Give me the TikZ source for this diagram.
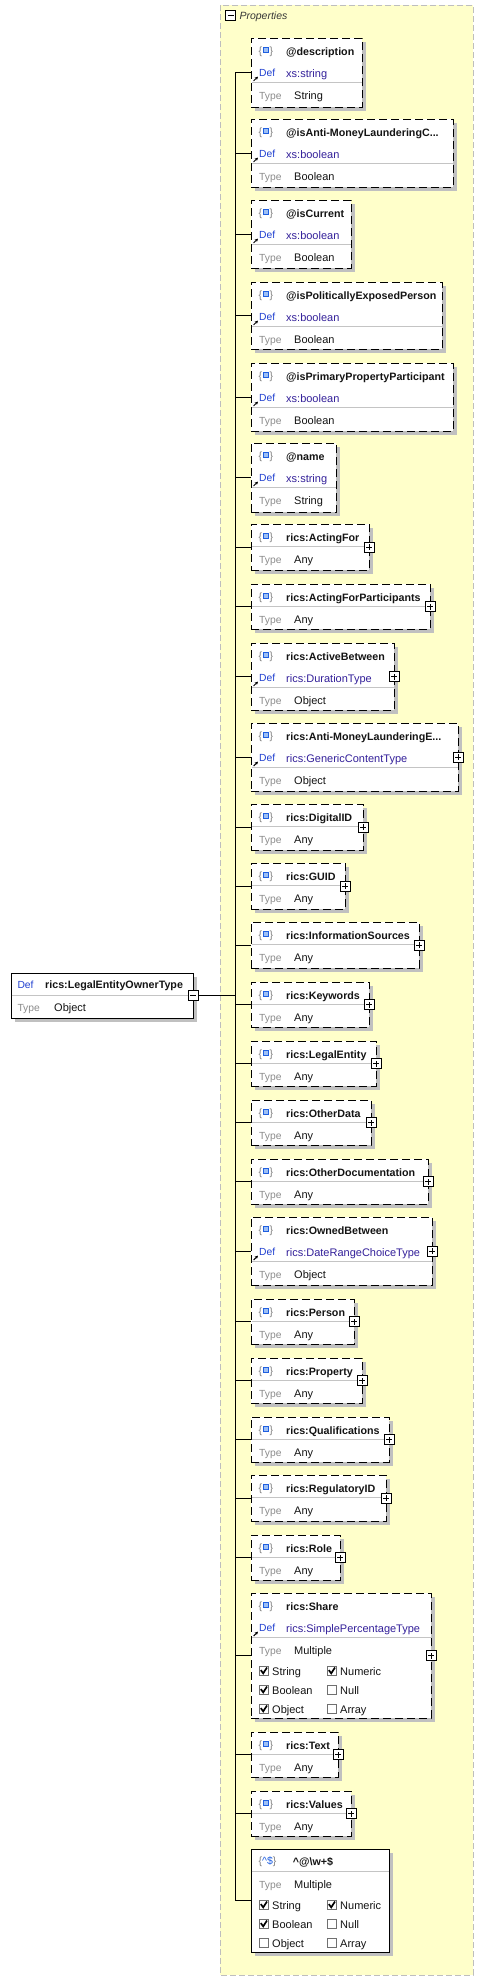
\documentclass[tikz,border=0pt]{standalone}
\usepackage{fontspec}
\setmainfont{Liberation Sans}
\usetikzlibrary{arrows.meta}
\definecolor{panelc}{HTML}{FFFFCA}
\definecolor{panelline}{HTML}{BEBEBE}
\definecolor{shadowc}{HTML}{C0C0C0}
\definecolor{sepcol}{HTML}{C4C4C4}
\definecolor{deflabc}{HTML}{1F3FD0}
\definecolor{defvalc}{HTML}{33209A}
\definecolor{typelabc}{HTML}{8C8C8C}
\definecolor{valc}{HTML}{141414}
\definecolor{bracec}{HTML}{808080}
\definecolor{iconblue}{HTML}{1F5FE0}
\definecolor{iconfill}{HTML}{9EC0F5}
\definecolor{cbxc}{HTML}{707070}
\tikzset{
  boxbase/.style={draw=black, line width=1pt, fill=white, inner sep=0pt, outer sep=0pt},
  dashedbox/.style={dash pattern=on 8pt off 4pt},
  solidbox/.style={solid},
  conn/.style={draw=black, line width=1pt},
  sepline/.style={draw=sepcol, line width=1pt},
  titlef/.style={font=\fontsize{10.7}{12}\selectfont\bfseries, text=valc, inner sep=0pt},
  defval/.style={font=\fontsize{11}{12}\selectfont, text=defvalc, inner sep=0pt},
  deflab/.style={font=\fontsize{10.3}{12}\selectfont, text=deflabc, inner sep=0pt},
  typelab/.style={font=\fontsize{10.3}{12}\selectfont, text=typelabc, inner sep=0pt},
  valf/.style={font=\fontsize{11}{12}\selectfont, text=valc, inner sep=0pt},
  bracef/.style={font=\fontsize{10.5}{12}\selectfont, text=bracec, inner sep=0pt},
  iconsq/.style={draw=iconblue, fill=iconfill, line width=1pt},
  defarrow/.style={-{Stealth[length=3.2pt,width=3.2pt]}, line width=0.9pt, black},
  plusbtn/.style={draw=black, fill=white, line width=0.9pt, minimum size=10pt, inner sep=0pt,
    path picture={\draw[line width=0.9pt] ([xshift=-3pt]path picture bounding box.center) -- ([xshift=3pt]path picture bounding box.center);
                  \draw[line width=0.9pt] ([yshift=-3pt]path picture bounding box.center) -- ([yshift=3pt]path picture bounding box.center);}},
  minusbtn/.style={draw=black, fill=white, line width=0.9pt, minimum size=10pt, inner sep=0pt,
    path picture={\draw[line width=0.9pt] ([xshift=-3pt]path picture bounding box.center) -- ([xshift=3pt]path picture bounding box.center);}},
  cbx/.style={draw=cbxc, fill=white, line width=0.9pt},
  checkm/.style={draw=black, line width=1.7pt, line join=miter},
}
% box frame with shadow
\newcommand\mkbox[5]{%
  \fill[shadowc] (255,#2+4) rectangle (#4+4,#3+4);
  \node[boxbase,#5,anchor=north west,minimum width={(#4)-251},minimum height={(#3)-(#2)}] (#1) at (251,#2) {};
}
\newcommand\elicon[2]{%
  \node[bracef,anchor=base west] (#1ib) at (258.4,#2+16) {\{};
  \node[bracef,anchor=base west] (#1ie) at (269.4,#2+16) {\}};
  \draw[iconsq] (263,#2+9.8) rectangle (268.5,#2+14.6);
}
\newcommand\eltitle[3]{\node[titlef,anchor=base west] (#1t) at (286,#2+17) {#3};}
\newcommand\defrow[3]{%
  \draw[defarrow] (253.6,#2+43) -- (258,#2+38.6);
  \node[deflab,anchor=base west] (#1dl) at (259,#2+38) {Def};
  \node[defval,anchor=base west] (#1dv) at (286,#2+39) {#3};
}
\newcommand\typerow[4]{%
  \node[typelab,anchor=base west] (#1tl) at (259,#2+#3) {Type};
  \node[valf,anchor=base west] (#1tv) at (294,#2+#3) {#4};
}
% 3-row box: name top bottom right title def type plus(1/0)
\newcommand\boxattr[8]{%
  \mkbox{#1}{#2}{#3}{#4}{dashedbox}
  \elicon{#1}{#2}
  \eltitle{#1}{#2}{#5}
  \defrow{#1}{#2}{#6}
  \draw[sepline] (251.5,#2+44) -- (#4-0.5,#2+44);
  \typerow{#1}{#2}{61}{#7}
  \ifnum#8=1 \node[plusbtn] (#1p) at (#1.east) {};\fi
  \draw[conn] (#1.west) -- (#1.west -| bus);
}
% 2-row box: name top bottom right title
\newcommand\boxany[5]{%
  \mkbox{#1}{#2}{#3}{#4}{dashedbox}
  \elicon{#1}{#2}
  \eltitle{#1}{#2}{#5}
  \draw[sepline] (251.5,#2+22) -- (#4-0.5,#2+22);
  \typerow{#1}{#2}{39}{Any}
  \node[plusbtn] (#1p) at (#1.east) {};
  \draw[conn] (#1.west) -- (#1.west -| bus);
}
% checkbox: name x baseline label checked
\newcommand\chk[5]{%
  \draw[cbx] (#2,#3-9.3) rectangle (#2+9.5,#3+0.3);
  \ifnum#5=1 \draw[checkm] (#2+1.8,#3-5.4) -- (#2+4.2,#3-2.2) -- (#2+8,#3-8);\fi
  \node[valf,anchor=base west] (#1) at (#2+13,#3) {#4};
}
\begin{document}
\begin{tikzpicture}[x=1pt,y=-1pt]
\useasboundingbox (0,0) rectangle (483,1981);
\fill[white] (0,0) rectangle (483,1981);
% properties panel
\draw[panelline, fill=panelc, line width=1pt, dash pattern=on 6pt off 3pt] (220,5) rectangle (473,1975);
\node[minusbtn, minimum size=10.4pt] (propbtn) at (230.5,15.5) {};
\node[font=\fontsize{10.5}{12}\selectfont\itshape, text=valc!85, inner sep=0pt, anchor=base west] (proplab) at (239.3,19.6) {Properties};
\coordinate (bus) at (235,0);

\boxattr{a1}{38}{107}{362}{@description}{xs:string}{String}{0}
\boxattr{a2}{119}{187}{453}{@isAnti-MoneyLaunderingC...}{xs:boolean}{Boolean}{0}
\boxattr{a3}{200}{268}{351}{@isCurrent}{xs:boolean}{Boolean}{0}
\boxattr{a4}{282}{349}{442}{@isPoliticallyExposedPerson}{xs:boolean}{Boolean}{0}
\boxattr{a5}{363}{431}{453}{@isPrimaryPropertyParticipant}{xs:boolean}{Boolean}{0}
\boxattr{a6}{443}{512}{336}{@name}{xs:string}{String}{0}
\boxany{b7}{524}{570}{369}{rics:ActingFor}
\boxany{b8}{584}{629}{430}{rics:ActingForParticipants}
\boxattr{b9}{643}{710}{394}{rics:ActiveBetween}{rics:DurationType}{Object}{1}
\boxattr{b10}{723}{791}{458}{rics:Anti-MoneyLaunderingE...}{rics:GenericContentType}{Object}{1}
\boxany{b11}{804}{850}{363}{rics:DigitalID}
\boxany{b12}{863}{909}{345}{rics:GUID}
\boxany{b13}{922}{968}{419}{rics:InformationSources}
\boxany{b14}{982}{1027}{369}{rics:Keywords}
\boxany{b15}{1041}{1086}{376}{rics:LegalEntity}
\boxany{b16}{1100}{1145}{371}{rics:OtherData}
\boxany{b17}{1159}{1204}{428}{rics:OtherDocumentation}
\boxattr{b18}{1217}{1285}{432}{rics:OwnedBetween}{rics:DateRangeChoiceType}{Object}{1}
\boxany{b19}{1299}{1344}{354}{rics:Person}
\boxany{b20}{1358}{1403}{362}{rics:Property}
\boxany{b21}{1417}{1462}{389}{rics:Qualifications}
\boxany{b22}{1475}{1521}{386}{rics:RegulatoryID}
\boxany{b23}{1535}{1580}{340}{rics:Role}
% rics:Share
\mkbox{b24}{1593}{1718}{431}{dashedbox}
\elicon{b24}{1593}
\eltitle{b24}{1593}{rics:Share}
\defrow{b24}{1593}{rics:SimplePercentageType}
\draw[sepline] (251.5,1637) -- (430.5,1637);
\typerow{b24}{1593}{61}{Multiple}
\chk{b24c1}{259}{1675.5}{String}{1}
\chk{b24c2}{327}{1675.5}{Numeric}{1}
\chk{b24c3}{259}{1694.5}{Boolean}{1}
\chk{b24c4}{327}{1694.5}{Null}{0}
\chk{b24c5}{259}{1713.5}{Object}{1}
\chk{b24c6}{327}{1713.5}{Array}{0}
\node[plusbtn] (b24p) at (b24.east) {};
\draw[conn] (b24.west) -- (b24.west -| bus);
\boxany{b25}{1732}{1777}{338}{rics:Text}
\boxany{b26}{1791}{1836}{351}{rics:Values}
% pattern property
\mkbox{b27}{1849}{1952}{389}{solidbox}
\node[bracef,anchor=base west] (b27i) at (258.4,1864) {\{\textcolor{iconblue}{\textasciicircum\$}\}};
\node[titlef,anchor=base west] (b27t) at (292.7,1865) {\textasciicircum @\textbackslash w+\$};
\draw[sepline] (251.5,1871) -- (388.5,1871);
\typerow{b27}{1849}{39}{Multiple}
\chk{b27c1}{259}{1909.5}{String}{1}
\chk{b27c2}{327}{1909.5}{Numeric}{1}
\chk{b27c3}{259}{1928.5}{Boolean}{1}
\chk{b27c4}{327}{1928.5}{Null}{0}
\chk{b27c5}{259}{1947.5}{Object}{0}
\chk{b27c6}{327}{1947.5}{Array}{0}
\draw[conn] (b27.west) -- (b27.west -| bus);
% bus
\draw[conn] (a1.west -| bus) -- (b27.west -| bus);
% root
\fill[shadowc] (15,977) rectangle (197,1022);
\node[boxbase,anchor=north west,minimum width=182pt,minimum height=45pt] (root) at (11,973) {};
\node[deflab,anchor=base west] (rootdl) at (17.3,988) {Def};
\node[titlef,anchor=base west] (rootdv) at (45,988.5) {rics:LegalEntityOwnerType};
\draw[sepline] (11.5,995) -- (192.5,995);
\node[typelab,anchor=base west] (roottl) at (17.3,1011) {Type};
\node[valf,anchor=base west] (roottv) at (54,1011) {Object};
\node[minusbtn] (rootbtn) at (root.east) {};
\draw[conn] (rootbtn.east) -- (rootbtn.east -| bus);
\end{tikzpicture}
\end{document}
